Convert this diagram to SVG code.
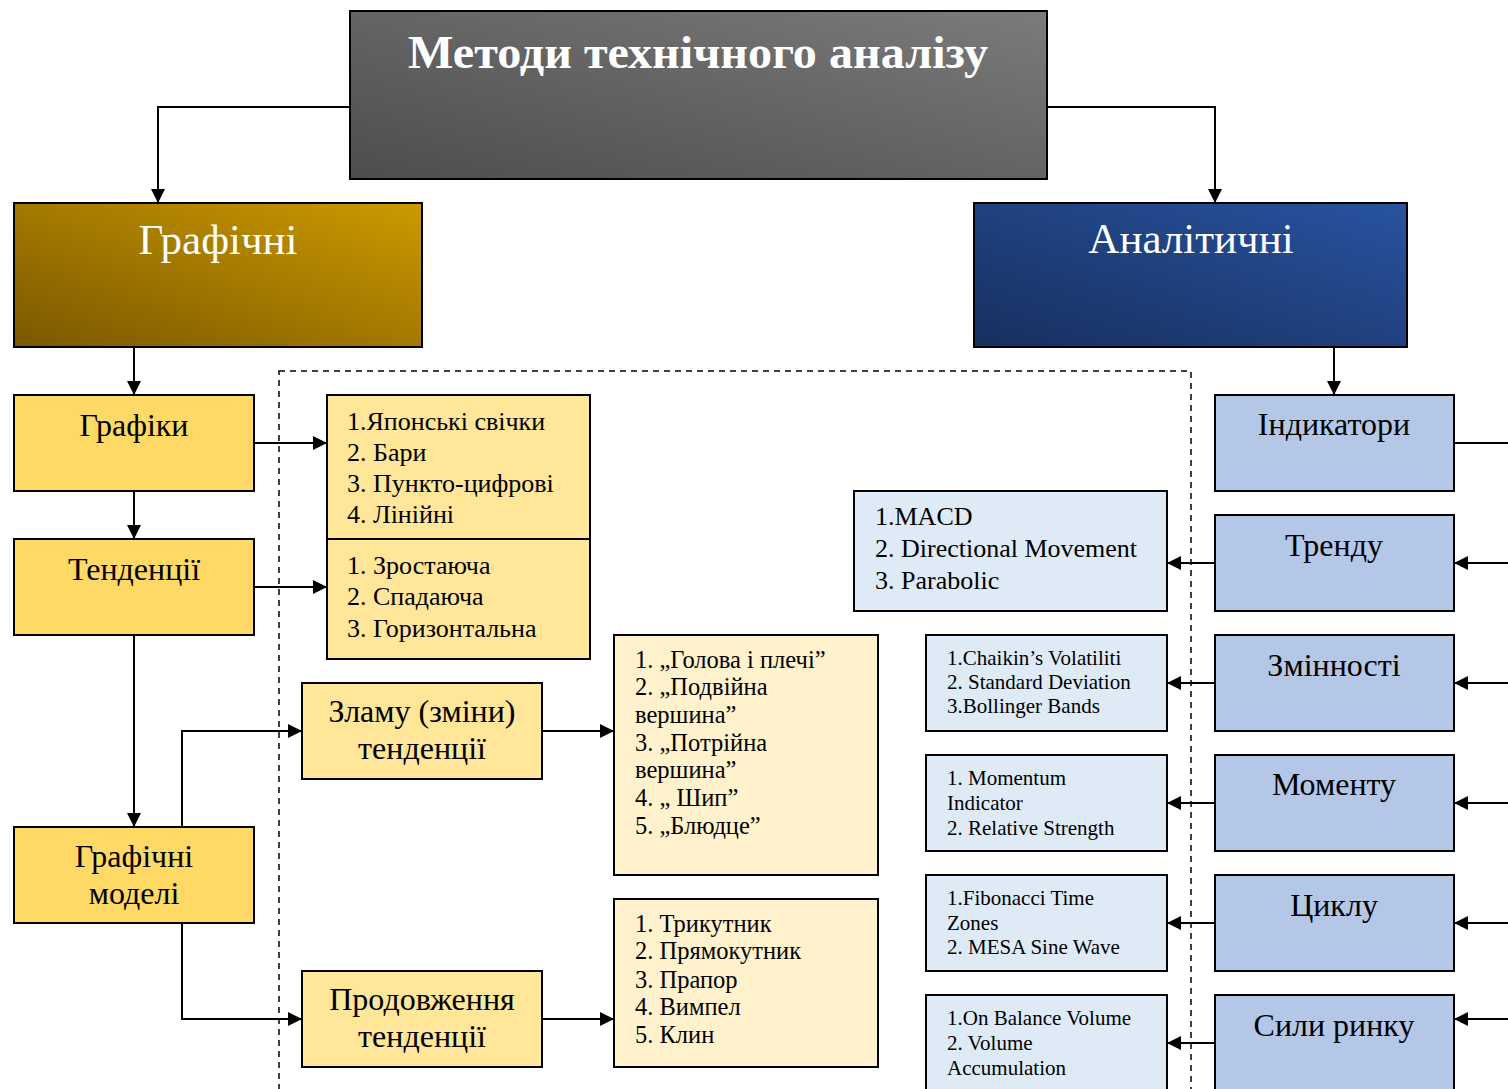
<svg xmlns="http://www.w3.org/2000/svg" width="1508" height="1089" viewBox="0 0 1508 1089">
<style>
text{font-family:"Liberation Serif","Times New Roman",serif;fill:#000}
.box{stroke:#000;stroke-width:2}
.y1{fill:#ffd966}
.y2{fill:#ffe699}
.y3{fill:#fff2cc}
.b1{fill:#b4c7e7}
.b2{fill:#deebf7}
.c{text-anchor:middle}
.t30{font-size:32px}
.t24{font-size:26px}
.t22{font-size:24.5px}
.t19{font-size:21px}
.big{font-size:43px;fill:#fff}
.ln{fill:none;stroke:#000;stroke-width:2}
</style>
<defs>
<linearGradient id="gGray" x1="0" y1="1" x2="1" y2="0"><stop offset="0" stop-color="#4d4d4d"/><stop offset="1" stop-color="#7b7b7b"/></linearGradient>
<linearGradient id="gGold" x1="0" y1="1" x2="1" y2="0"><stop offset="0" stop-color="#7a5800"/><stop offset="1" stop-color="#cc9a00"/></linearGradient>
<linearGradient id="gBlue" x1="0" y1="1" x2="1" y2="0"><stop offset="0" stop-color="#172f5e"/><stop offset="1" stop-color="#2853a0"/></linearGradient>
<marker id="ah" viewBox="0 0 14 14" refX="14" refY="7" markerWidth="14" markerHeight="14" markerUnits="userSpaceOnUse" orient="auto"><path d="M0,0 L14,7 L0,14 z" fill="#000"/></marker>
</defs>

<rect x="279" y="371" width="912" height="740" fill="none" stroke="#000" stroke-width="1.5" stroke-dasharray="6,5"/>

<g id="connectors">
<path class="ln" d="M350,107 H158 V203" marker-end="url(#ah)"/>
<path class="ln" d="M1047,107 H1215 V203" marker-end="url(#ah)"/>
<path class="ln" d="M134,347 V395" marker-end="url(#ah)"/>
<path class="ln" d="M1334,347 V395" marker-end="url(#ah)"/>
<path class="ln" d="M134,491 V539" marker-end="url(#ah)"/>
<path class="ln" d="M134,635 V827" marker-end="url(#ah)"/>
<path class="ln" d="M254,443 H327" marker-end="url(#ah)"/>
<path class="ln" d="M254,587 H327" marker-end="url(#ah)"/>
<path class="ln" d="M182,827 V731 H302" marker-end="url(#ah)"/>
<path class="ln" d="M182,923 V1019 H302" marker-end="url(#ah)"/>
<path class="ln" d="M542,731 H614" marker-end="url(#ah)"/>
<path class="ln" d="M542,1019 H614" marker-end="url(#ah)"/>
<path class="ln" d="M1454,443 H1510"/>
<path class="ln" d="M1510,563 H1454" marker-end="url(#ah)"/>
<path class="ln" d="M1510,683 H1454" marker-end="url(#ah)"/>
<path class="ln" d="M1510,803 H1454" marker-end="url(#ah)"/>
<path class="ln" d="M1510,923 H1454" marker-end="url(#ah)"/>
<path class="ln" d="M1510,1019 H1454" marker-end="url(#ah)"/>
<path class="ln" d="M1215,563 H1167" marker-end="url(#ah)"/>
<path class="ln" d="M1215,683 H1167" marker-end="url(#ah)"/>
<path class="ln" d="M1215,803 H1167" marker-end="url(#ah)"/>
<path class="ln" d="M1215,923 H1167" marker-end="url(#ah)"/>
<path class="ln" d="M1215,1043 H1167" marker-end="url(#ah)"/>
</g>

<g id="title">
<rect class="box" x="350" y="11" width="697" height="168" fill="url(#gGray)"/>
<text class="c" x="698" y="68" font-size="47" font-weight="bold" textLength="580" lengthAdjust="spacingAndGlyphs" style="fill:#fff">Методи технічного аналізу</text>
</g>

<g id="graphic">
<rect class="box" x="14" y="203" width="408" height="144" fill="url(#gGold)"/>
<text class="c big" x="218" y="254">Графічні</text>
</g>

<g id="analytic">
<rect class="box" x="974" y="203" width="433" height="144" fill="url(#gBlue)"/>
<text class="c big" x="1191" y="253">Аналітичні</text>
</g>

<g id="grafiky">
<rect class="box y1" x="14" y="395" width="240" height="96"/>
<text class="c t30" x="134" y="436">Графіки</text>
</g>
<g id="tendentsii">
<rect class="box y1" x="14" y="539" width="240" height="96"/>
<text class="c t30" x="134" y="580">Тенденції</text>
</g>
<g id="models">
<rect class="box y1" x="14" y="827" width="240" height="96"/>
<text class="c t30" x="134" y="867">Графічні</text>
<text class="c t30" x="134" y="904">моделі</text>
</g>

<g id="list-charts">
<rect class="box y2" x="327" y="395" width="263" height="144"/>
<text class="t24" x="347" y="430">1.Японські свічки</text>
<text class="t24" x="347" y="461">2. Бари</text>
<text class="t24" x="347" y="492">3. Пункто-цифрові</text>
<text class="t24" x="347" y="523">4. Лінійні</text>
</g>
<g id="list-trends">
<rect class="box y2" x="327" y="539" width="263" height="120"/>
<text class="t24" x="347" y="574">1. Зростаюча</text>
<text class="t24" x="347" y="605">2. Спадаюча</text>
<text class="t24" x="347" y="637">3. Горизонтальна</text>
</g>

<g id="reversal">
<rect class="box y2" x="302" y="683" width="240" height="96"/>
<text class="c t30" x="422" y="722">Зламу (зміни)</text>
<text class="c t30" x="422" y="759">тенденції</text>
</g>
<g id="continuation">
<rect class="box y2" x="302" y="971" width="240" height="96"/>
<text class="c t30" x="422" y="1010">Продовження</text>
<text class="c t30" x="422" y="1047">тенденції</text>
</g>

<g id="list-reversal">
<rect class="box y3" x="614" y="635" width="264" height="240"/>
<text class="t22" x="635" y="668">1. „Голова і плечі”</text>
<text class="t22" x="635" y="695">2. „Подвійна</text>
<text class="t22" x="635" y="723">вершина”</text>
<text class="t22" x="635" y="751">3. „Потрійна</text>
<text class="t22" x="635" y="778">вершина”</text>
<text class="t22" x="635" y="806">4. „ Шип”</text>
<text class="t22" x="635" y="834">5. „Блюдце”</text>
</g>
<g id="list-continuation">
<rect class="box y3" x="614" y="899" width="264" height="168"/>
<text class="t22" x="635" y="932">1. Трикутник</text>
<text class="t22" x="635" y="959">2. Прямокутник</text>
<text class="t22" x="635" y="988">3. Прапор</text>
<text class="t22" x="635" y="1015">4. Вимпел</text>
<text class="t22" x="635" y="1043">5. Клин</text>
</g>

<g id="indicators">
<rect class="box b1" x="1215" y="395" width="239" height="96"/>
<text class="c t30" x="1334" y="435">Індикатори</text>
</g>
<g id="trend">
<rect class="box b1" x="1215" y="515" width="239" height="96"/>
<text class="c t30" x="1334" y="556">Тренду</text>
</g>
<g id="volatility">
<rect class="box b1" x="1215" y="635" width="239" height="96"/>
<text class="c t30" x="1334" y="676">Змінності</text>
</g>
<g id="momentum">
<rect class="box b1" x="1215" y="755" width="239" height="96"/>
<text class="c t30" x="1334" y="795">Моменту</text>
</g>
<g id="cycle">
<rect class="box b1" x="1215" y="875" width="239" height="96"/>
<text class="c t30" x="1334" y="916">Циклу</text>
</g>
<g id="market-forces">
<rect class="box b1" x="1215" y="995" width="239" height="110"/>
<text class="c t30" x="1334" y="1036">Сили ринку</text>
</g>

<g id="list-trend">
<rect class="box b2" x="854" y="491" width="313" height="120"/>
<text class="t24" x="875" y="525">1.MACD</text>
<text class="t24" x="875" y="557">2. Directional Movement</text>
<text class="t24" x="875" y="589">3. Parabolic</text>
</g>
<g id="list-volatility">
<rect class="box b2" x="926" y="635" width="241" height="96"/>
<text class="t19" x="947" y="665">1.Chaikin’s Volatiliti</text>
<text class="t19" x="947" y="689">2. Standard Deviation</text>
<text class="t19" x="947" y="713">3.Bollinger Bands</text>
</g>
<g id="list-momentum">
<rect class="box b2" x="926" y="755" width="241" height="96"/>
<text class="t19" x="947" y="785">1. Momentum</text>
<text class="t19" x="947" y="810">Indicator</text>
<text class="t19" x="947" y="835">2. Relative Strength</text>
</g>
<g id="list-cycle">
<rect class="box b2" x="926" y="875" width="241" height="96"/>
<text class="t19" x="947" y="905">1.Fibonacci Time</text>
<text class="t19" x="947" y="930">Zones</text>
<text class="t19" x="947" y="954">2. MESA Sine Wave</text>
</g>
<g id="list-market">
<rect class="box b2" x="926" y="995" width="241" height="110"/>
<text class="t19" x="947" y="1025">1.On Balance Volume</text>
<text class="t19" x="947" y="1050">2. Volume</text>
<text class="t19" x="947" y="1075">Accumulation</text>
</g>
</svg>
